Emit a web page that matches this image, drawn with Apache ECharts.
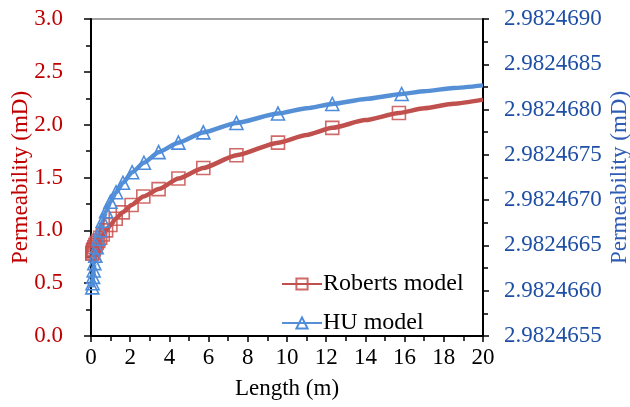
<!DOCTYPE html>
<html>
<head>
<meta charset="utf-8">
<script src="https://cdn.jsdelivr.net/npm/echarts@6/dist/echarts.min.js"></script>
<style>
html,body{margin:0;padding:0;background:#fff;}
#chart{width:630px;height:407px;}
</style>
</head>
<body>
<div id="chart"></div>
<script>
// Roberts model (left axis, mD) – marker points
const robertsX = [0.065, 0.08, 0.105, 0.135, 0.17, 0.22, 0.29, 0.37, 0.47, 0.60, 0.77, 0.99, 1.26, 1.62, 2.07, 2.67, 3.45, 4.46, 5.73, 7.42, 9.54, 12.31, 15.71];
const robertsY = [0.78, 0.79, 0.81, 0.82, 0.84, 0.86, 0.88, 0.90, 0.93, 0.96, 1.00, 1.05, 1.11, 1.17, 1.24, 1.32, 1.39, 1.49, 1.59, 1.71, 1.83, 1.97, 2.11];
// extra curve points (no markers)
const robertsCurveX = [11.0, 14.0, 17.0, 18.5, 20];
const robertsCurveY = [1.903, 2.043, 2.155, 2.198, 2.237];

// HU model (right axis, mD) – marker points
const huX = [0.065, 0.08, 0.105, 0.135, 0.17, 0.22, 0.29, 0.37, 0.47, 0.60, 0.77, 0.99, 1.28, 1.63, 2.10, 2.70, 3.45, 4.46, 5.73, 7.42, 9.54, 12.31, 15.85];
const huY = [2.982466037, 2.982466083, 2.982466153, 2.982466223, 2.982466305, 2.982466387, 2.982466480, 2.982466573, 2.982466667, 2.982466772, 2.982466877, 2.982466982, 2.982467087, 2.982467192, 2.982467308, 2.982467413, 2.982467530, 2.982467635, 2.982467748, 2.982467852, 2.982467956, 2.982468062, 2.982468172];
const huCurveX = [11.0, 14.0, 17.0, 18.5, 20];
const huCurveY = [2.982468014, 2.982468117, 2.982468202, 2.982468238, 2.982468267];

const xTicks = {min: 0, max: 20, interval: 2};
const leftTicks = {min: 0, max: 3, interval: 0.5};
const rightTicks = {min: 2.9824655, max: 2.9824690, interval: 0.0000005};

function build(xs, ys, cxs, cys) {
  const d = xs.map((x, i) => ({value: [x, ys[i]]}));
  cxs.forEach((x, i) => d.push({value: [x, cys[i]], symbol: 'none'}));
  d.sort((a, b) => a.value[0] - b.value[0]);
  return d;
}

const FONT = 'Liberation Serif';
const chart = echarts.init(document.getElementById('chart'), null, {renderer: 'canvas'});
chart.setOption({
  animation: false,
  backgroundColor: '#fff',
  textStyle: {fontFamily: FONT},
  grid: {left: 91, right: 147, top: 19, bottom: 71, outerBoundsMode: 'none', containLabel: false,
         show: true, borderColor: '#444', borderWidth: 1.2, backgroundColor: 'transparent'},
  legend: {
    orient: 'vertical', left: 276, top: 267, itemWidth: 40, itemHeight: 14, itemGap: 15,
    textStyle: {fontFamily: FONT, fontSize: 24, color: '#000', padding: [0, 0, 0, -4]},
    data: ['Roberts model', 'HU model']
  },
  xAxis: {
    type: 'value', min: xTicks.min, max: xTicks.max, interval: xTicks.interval,
    name: 'Length (m)', nameLocation: 'middle', nameGap: 41, nameMoveOverlap: false,
    nameTextStyle: {fontFamily: FONT, fontSize: 23, color: '#000'},
    axisLine: {lineStyle: {color: '#000', width: 2}},
    axisTick: {length: 6, lineStyle: {color: '#000', width: 1.5}},
    minorTick: {show: true, splitNumber: 2, length: 5, lineStyle: {color: '#000', width: 1.5}},
    axisLabel: {fontFamily: FONT, fontSize: 23, color: '#000', margin: 10},
    splitLine: {show: false}
  },
  yAxis: [{
    type: 'value', min: leftTicks.min, max: leftTicks.max, interval: leftTicks.interval,
    name: 'Permeability (mD)', nameLocation: 'middle', nameGap: 59, nameMoveOverlap: false,
    nameTextStyle: {fontFamily: FONT, fontSize: 23, color: '#C00000'},
    axisLine: {show: true, lineStyle: {color: '#000', width: 2}},
    axisTick: {length: 7, lineStyle: {color: '#000', width: 1.5}},
    minorTick: {show: true, splitNumber: 2, length: 5, lineStyle: {color: '#000', width: 1.5}},
    axisLabel: {fontFamily: FONT, fontSize: 23, color: '#C00000', margin: 28, formatter: v => v.toFixed(1)},
    splitLine: {show: false}
  }, {
    type: 'value', position: 'right', min: rightTicks.min, max: rightTicks.max, interval: rightTicks.interval,
    name: 'Permeability (mD)', nameLocation: 'middle', nameGap: 125, nameRotate: 90, nameMoveOverlap: false,
    nameTextStyle: {fontFamily: FONT, fontSize: 23, color: '#2F5DB5'},
    axisLine: {show: true, lineStyle: {color: '#000', width: 2}},
    axisTick: {length: 6, lineStyle: {color: '#000', width: 1.5}},
    minorTick: {show: true, splitNumber: 2, length: 5, lineStyle: {color: '#000', width: 1.5}},
    axisLabel: {fontFamily: FONT, fontSize: 23, color: '#1F4FA5', margin: 21, formatter: v => v.toFixed(7)},
    splitLine: {show: false}
  }],
  series: [{
    name: 'Roberts model', type: 'line', yAxisIndex: 0,
    data: build(robertsX, robertsY, robertsCurveX, robertsCurveY),
    smooth: 0.2, smoothMonotone: 'x',
    symbol: 'rect', symbolSize: 13, showSymbol: true,
    lineStyle: {color: '#C0504D', width: 4.5},
    itemStyle: {color: 'rgba(255,255,255,0)', borderColor: 'rgba(200,80,77,0.85)', borderWidth: 1.6}
  }, {
    name: 'HU model', type: 'line', yAxisIndex: 1,
    data: build(huX, huY, huCurveX, huCurveY),
    smooth: 0.2, smoothMonotone: 'x',
    symbol: 'triangle', symbolSize: 13, showSymbol: true,
    lineStyle: {color: '#5590D6', width: 4.5},
    itemStyle: {color: 'rgba(255,255,255,0)', borderColor: '#4D8CDB', borderWidth: 1.6}
  }]
});
</script>
</body>
</html>
